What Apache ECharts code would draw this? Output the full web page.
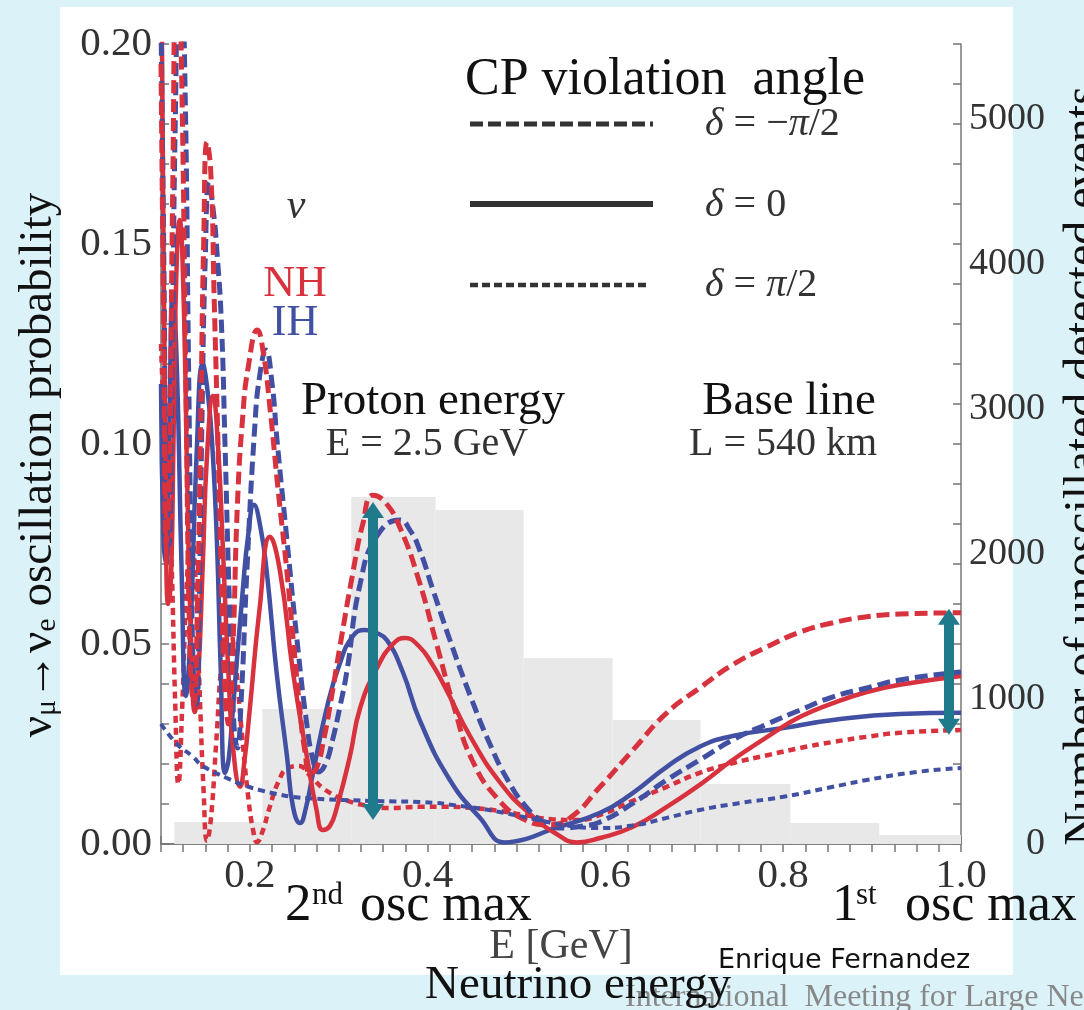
<!DOCTYPE html>
<html>
<head>
<meta charset="utf-8">
<title>nu_mu to nu_e oscillation probability</title>
<script src="https://cdn.jsdelivr.net/npm/echarts@6.0.0/dist/echarts.min.js"></script>
<style>
  html, body { margin: 0; padding: 0; background: #dbf3f8; }
  #panel { position: absolute; left: 60px; top: 7px; width: 953px; height: 968px; background: #fff; }
  #chart { position: absolute; left: 0; top: 0; width: 1084px; height: 1010px; }
</style>
</head>
<body>
<div id="panel"></div>
<div id="chart"></div>
<script>
// neutrino energy E [GeV] -> oscillation probability
// NH = normal hierarchy (red), IH = inverted hierarchy (blue)
const nhMinus = [[0.100,0.195],[0.103,0.13],[0.106,0.075],[0.109,0.085],[0.113,0.16],[0.118,0.235],[0.123,0.195],[0.128,0.115],[0.133,0.045],[0.137,0.035],[0.141,0.06],[0.145,0.11],[0.148,0.15],[0.1517,0.1755],[0.156,0.168],[0.160,0.135],[0.164,0.101],[0.168,0.065],[0.172,0.038],[0.176,0.03],[0.181,0.05],[0.186,0.085],[0.192,0.107],[0.198,0.119],[0.2085,0.1285],[0.215,0.123],[0.2226,0.109],[0.232,0.088],[0.2417,0.068],[0.25,0.048],[0.256,0.034],[0.262,0.023],[0.268,0.0175],[0.275,0.019],[0.283,0.026],[0.292,0.037],[0.301,0.049],[0.316,0.068],[0.327,0.080],[0.3385,0.0872],[0.352,0.0855],[0.369,0.079],[0.39,0.066],[0.41,0.050],[0.43,0.034],[0.45,0.021],[0.48,0.011],[0.51,0.006],[0.535,0.0048],[0.56,0.0065],[0.594,0.0143],[0.631,0.0235],[0.669,0.0328],[0.706,0.039],[0.743,0.0448],[0.782,0.0493],[0.819,0.053],[0.856,0.0553],[0.894,0.0568],[0.931,0.0575],[1.0,0.0578]];

const ihMinus = [[0.100,0.205],[0.103,0.15],[0.106,0.09],[0.109,0.075],[0.112,0.11],[0.116,0.18],[0.1215,0.235],[0.127,0.19],[0.131,0.12],[0.134,0.07],[0.137,0.04],[0.140,0.035],[0.143,0.06],[0.146,0.105],[0.150,0.148],[0.154,0.1655],[0.159,0.158],[0.163,0.148],[0.168,0.13],[0.172,0.10],[0.177,0.06],[0.182,0.03],[0.186,0.024],[0.19,0.035],[0.197,0.07],[0.2057,0.105],[0.211,0.117],[0.218,0.1235],[0.225,0.115],[0.2305,0.101],[0.2417,0.076],[0.253,0.051],[0.264,0.030],[0.271,0.021],[0.277,0.018],[0.285,0.020],[0.293,0.026],[0.301,0.034],[0.309,0.043],[0.324,0.065],[0.343,0.077],[0.3688,0.081],[0.380,0.0785],[0.391,0.0735],[0.406,0.0635],[0.425,0.051],[0.448,0.037],[0.47,0.025],[0.49,0.016],[0.51,0.0095],[0.53,0.0055],[0.55,0.004],[0.575,0.0045],[0.594,0.0055],[0.631,0.0102],[0.669,0.016],[0.706,0.021],[0.743,0.026],[0.782,0.030],[0.819,0.0335],[0.856,0.0368],[0.894,0.039],[0.931,0.041],[1.0,0.043]];

const nhZero = [[0.100,0.23],[0.102,0.175],[0.105,0.10],[0.108,0.06],[0.111,0.065],[0.114,0.10],[0.117,0.14],[0.121,0.156],[0.125,0.14],[0.130,0.085],[0.134,0.05],[0.138,0.033],[0.142,0.042],[0.147,0.07],[0.152,0.098],[0.1585,0.112],[0.164,0.10],[0.170,0.072],[0.176,0.042],[0.182,0.022],[0.1889,0.0143],[0.194,0.021],[0.2,0.034],[0.211,0.059],[0.2226,0.0768],[0.234,0.068],[0.2485,0.043],[0.264,0.022],[0.275,0.0085],[0.282,0.0035],[0.29,0.0045],[0.298,0.0093],[0.3126,0.022],[0.324,0.034],[0.343,0.044],[0.361,0.050],[0.3745,0.0515],[0.39,0.0495],[0.405,0.045],[0.42,0.039],[0.4476,0.027],[0.481,0.0155],[0.515,0.0075],[0.545,0.0025],[0.568,0.0004],[0.594,0.0015],[0.631,0.0043],[0.669,0.0093],[0.706,0.0148],[0.743,0.021],[0.782,0.0268],[0.819,0.0318],[0.856,0.0352],[0.894,0.038],[0.931,0.0398],[1.0,0.042]];

const ihZero = [[0.100,0.115],[0.103,0.075],[0.106,0.07],[0.109,0.10],[0.1135,0.138],[0.118,0.118],[0.123,0.07],[0.128,0.037],[0.133,0.052],[0.14,0.097],[0.147,0.12],[0.153,0.112],[0.158,0.0985],[0.163,0.075],[0.167,0.045],[0.172,0.0178],[0.176,0.021],[0.181,0.034],[0.192,0.0635],[0.198,0.077],[0.2046,0.0848],[0.212,0.079],[0.219,0.068],[0.230,0.043],[0.2417,0.022],[0.2485,0.0093],[0.2564,0.00525],[0.263,0.009],[0.271,0.0178],[0.2865,0.034],[0.301,0.045],[0.316,0.052],[0.3295,0.0535],[0.342,0.0528],[0.354,0.051],[0.372,0.043],[0.391,0.031],[0.425,0.016],[0.459,0.0065],[0.487,0.0004],[0.51,0.0012],[0.5375,0.0035],[0.594,0.0078],[0.631,0.0128],[0.669,0.0193],[0.706,0.0243],[0.743,0.027],[0.80,0.029],[0.856,0.031],[0.931,0.0325],[1.0,0.0328]];

const nhPlus = [[0.100,0.125],[0.104,0.105],[0.108,0.095],[0.112,0.07],[0.116,0.035],[0.1195,0.015],[0.124,0.035],[0.129,0.065],[0.134,0.078],[0.139,0.065],[0.144,0.035],[0.148,0.013],[0.1517,0.0008],[0.156,0.006],[0.162,0.025],[0.169,0.047],[0.176,0.055],[0.183,0.047],[0.19,0.03],[0.198,0.012],[0.204,0.003],[0.208,0.0005],[0.214,0.003],[0.222,0.009],[0.232,0.0155],[0.243,0.019],[0.255,0.0195],[0.268,0.017],[0.285,0.0135],[0.31,0.0108],[0.335,0.0095],[0.36,0.009],[0.39,0.0093],[0.42,0.0093],[0.45,0.009],[0.48,0.0083],[0.51,0.0072],[0.54,0.0062],[0.57,0.006],[0.594,0.0073],[0.631,0.0108],[0.669,0.0143],[0.706,0.0178],[0.743,0.0202],[0.782,0.0222],[0.819,0.024],[0.856,0.0255],[0.894,0.0268],[0.931,0.0278],[1.0,0.0285]];

const ihPlus = [[0.100,0.030],[0.118,0.025],[0.136,0.0218],[0.144,0.020],[0.155,0.0185],[0.174,0.0165],[0.192,0.0148],[0.211,0.0135],[0.23,0.0125],[0.248,0.0118],[0.275,0.0113],[0.305,0.011],[0.35,0.0107],[0.391,0.0105],[0.444,0.0093],[0.481,0.008],[0.52,0.0062],[0.555,0.0047],[0.59,0.004],[0.63,0.0046],[0.67,0.0066],[0.706,0.0085],[0.75,0.0102],[0.80,0.0118],[0.856,0.0143],[0.894,0.016],[0.95,0.018],[1.0,0.019]];

// unoscillated event histogram (right axis)
const binLo = [0.115, 0.214, 0.314, 0.409, 0.508, 0.608, 0.707, 0.808, 0.908];
const binHi = [0.214, 0.314, 0.409, 0.508, 0.608, 0.707, 0.808, 0.908, 1.0];
const binEvents = [152, 931, 2393, 2303, 1283, 855, 414, 145, 62];

// CP-separation arrows at the 2nd and 1st oscillation maxima
const arrowE = [0.3385, 0.9864];
const arrowTop = [0.0835, 0.0568];
const arrowBottom = [0.008, 0.0293];

const RED = '#d7323d';
const BLUE = '#4150a2';
const TEAL = '#1f7b8c';
const SERIF = 'Liberation Serif';

const chart = echarts.init(document.getElementById('chart'));

const dashed = [13, 6];
const dotted = [7, 5];

const curveSeries = (name, data, color, type, width) => ({
  name: name,
  type: 'line',
  data: data,
  smooth: true,
  symbol: 'none',
  clip: true,
  lineStyle: { color: color, width: width, type: type },
  z: 3
});

const histogram = {
  name: 'events',
  type: 'custom',
  xAxisIndex: 0,
  yAxisIndex: 2,
  encode: { x: [0, 1], y: 2 },
  data: binLo.map((lo, i) => [lo, binHi[i], binEvents[i]]),
  renderItem: (params, api) => {
    const p0 = api.coord([api.value(0), api.value(2)]);
    const p1 = api.coord([api.value(1), 0]);
    return {
      type: 'rect',
      shape: { x: p0[0], y: p0[1], width: p1[0] - p0[0], height: p1[1] - p0[1] },
      style: { fill: '#e8e8e8' }
    };
  },
  z: 1
};

const arrows = {
  name: 'arrows',
  type: 'line',
  data: ihPlus,
  smooth: true,
  symbol: 'none',
  lineStyle: { color: BLUE, width: 4, type: dotted },
  z: 4,
  markLine: {
    silent: true,
    symbol: ['triangle', 'triangle'],
    symbolSize: [22, 16],
    label: { show: false },
    lineStyle: { color: TEAL, width: 10, type: 'solid' },
    data: arrowE.map((e, i) => [{ coord: [e, arrowTop[i]] }, { coord: [e, arrowBottom[i]] }])
  }
};

const tickStyle = { show: true, inside: true, length: 8, lineStyle: { color: '#777', width: 1.5 } };
const lineStyleAxis = { show: true, lineStyle: { color: '#777', width: 1.5 } };
const labelFont = { fontFamily: SERIF, color: '#333' };

const txt = (x, y, text, size, extra) => ({
  type: 'text', x: x, y: y,
  style: Object.assign({
    text: text, fontSize: size, fontFamily: SERIF, fill: '#111',
    align: 'left', verticalAlign: 'middle', textAlign: 'left', textVerticalAlign: 'middle'
  }, extra || {})
});

const center = { align: 'center', textAlign: 'center' };
const italic = { fontStyle: 'italic', fontFamily: SERIF };
const deltaRich = { i: Object.assign({ fontSize: 40, fill: '#333' }, italic) };

const option = {
  animation: false,
  backgroundColor: 'transparent',
  grid: { left: 161, top: 44, width: 800, height: 800, outerBoundsMode: 'none' },
  xAxis: [
    {
      type: 'value', min: 0.1, max: 1.0, interval: 0.025,
      axisLine: lineStyleAxis, axisTick: tickStyle, splitLine: { show: false },
      axisLabel: Object.assign({
        fontSize: 41, margin: 12,
        formatter: v => {
          const r = Math.round(v * 10);
          return (Math.abs(v * 10 - r) < 1e-6 && r % 2 === 0 && r >= 2) ? (r / 10).toFixed(1) : '';
        }
      }, labelFont)
    },
    {
      type: 'value', position: 'top', min: 0.1, max: 1.0, interval: 0.025,
      axisLine: lineStyleAxis, axisTick: tickStyle, splitLine: { show: false },
      axisLabel: { show: false }
    }
  ],
  yAxis: [
    {
      type: 'value', min: 0, max: 0.2, interval: 0.01,
      axisLine: lineStyleAxis, axisTick: tickStyle, splitLine: { show: false },
      axisLabel: Object.assign({
        fontSize: 41, margin: 9,
        formatter: v => {
          const r = Math.round(v * 100);
          return (Math.abs(v * 100 - r) < 1e-6 && r % 5 === 0) ? v.toFixed(2) : '';
        }
      }, labelFont)
    },
    {
      type: 'value', position: 'right', min: 0, max: 0.2, interval: 0.01,
      axisLine: lineStyleAxis, axisTick: tickStyle, splitLine: { show: false },
      axisLabel: { show: false }
    },
    {
      type: 'value', position: 'right', min: 0, max: 5517, interval: 1000,
      axisLine: { show: false }, axisTick: { show: false }, splitLine: { show: false },
      axisLabel: Object.assign({
        fontSize: 38, margin: 84, align: 'right', showMaxLabel: false,
        formatter: v => String(Math.round(v))
      }, labelFont)
    }
  ],
  series: [
    histogram,
    curveSeries('NH δ=π/2', nhPlus, RED, dotted, 4.5),
    curveSeries('IH δ=0', ihZero, BLUE, 'solid', 4.5),
    curveSeries('NH δ=0', nhZero, RED, 'solid', 4.5),
    curveSeries('IH δ=-π/2', ihMinus, BLUE, dashed, 5),
    curveSeries('NH δ=-π/2', nhMinus, RED, dashed, 5),
    arrows
  ],
  graphic: [
    // legend for the CP violation angle
    txt(465, 80, 'CP violation  angle', 52),
    { type: 'line', shape: { x1: 470, y1: 124, x2: 653, y2: 124 }, style: { stroke: '#333', lineWidth: 5, lineDash: [13, 5] } },
    { type: 'line', shape: { x1: 470, y1: 204, x2: 653, y2: 204 }, style: { stroke: '#333', lineWidth: 6 } },
    { type: 'line', shape: { x1: 470, y1: 285, x2: 650, y2: 285 }, style: { stroke: '#333', lineWidth: 4.5, lineDash: [8, 4] } },
    txt(705, 124, '{i|δ} = −{i|π}/2', 40, { fill: '#333', rich: deltaRich }),
    txt(705, 205, '{i|δ} = 0', 40, { fill: '#333', rich: deltaRich }),
    txt(705, 285, '{i|δ} = {i|π}/2', 40, { fill: '#333', rich: deltaRich }),
    // hierarchy labels
    txt(296, 207, 'ν', 42, Object.assign({ fill: '#333' }, italic, center)),
    txt(295, 284, 'NH', 44, Object.assign({ fill: RED }, center)),
    txt(295, 323, 'IH', 44, Object.assign({ fill: BLUE }, center)),
    // beam parameters
    txt(433, 402, 'Proton energy', 47, center),
    txt(427, 444, 'E = 2.5 GeV', 40, Object.assign({ fill: '#333' }, center)),
    txt(789, 402, 'Base line', 47, center),
    txt(783, 444, 'L = 540 km', 40, Object.assign({ fill: '#333' }, center)),
    // oscillation maxima
    txt(285, 906, '2', 53),
    txt(312, 896, 'nd', 31),
    txt(360, 906, 'osc max', 52),
    txt(832, 906, '1', 53),
    txt(856, 896, 'st', 31),
    txt(905, 906, 'osc max', 52),
    // axis titles and footer
    txt(561, 947, 'E [GeV]', 42, Object.assign({ fill: '#444' }, center)),
    txt(625, 998, 'International  Meeting for Large Neutrino Detectors', 32, { fill: '#888' }),
    txt(578, 986, 'Neutrino energy', 47, center),
    txt(718, 961, 'Enrique Fernandez', 27, { fontFamily: 'DejaVu Sans' }),
    {
      type: 'text', x: 39, y: 465, rotation: Math.PI / 2,
      style: {
        text: 'ν{s|μ}→ν{s|e} oscillation probability',
        fontSize: 47, fontFamily: SERIF, fill: '#111',
        align: 'center', verticalAlign: 'middle', textAlign: 'center', textVerticalAlign: 'middle',
        rich: { s: { fontSize: 30, fontFamily: SERIF, fill: '#111', lineHeight: 22, verticalAlign: 'bottom' } }
      }
    },
    {
      type: 'text', x: 1084, y: 466, rotation: Math.PI / 2,
      style: {
        text: 'Number of unoscillated detected events',
        fontSize: 48, fontFamily: SERIF, fill: '#111',
        align: 'center', verticalAlign: 'middle', textAlign: 'center', textVerticalAlign: 'middle'
      }
    }
  ]
};

chart.setOption(option);
</script>
</body>
</html>
